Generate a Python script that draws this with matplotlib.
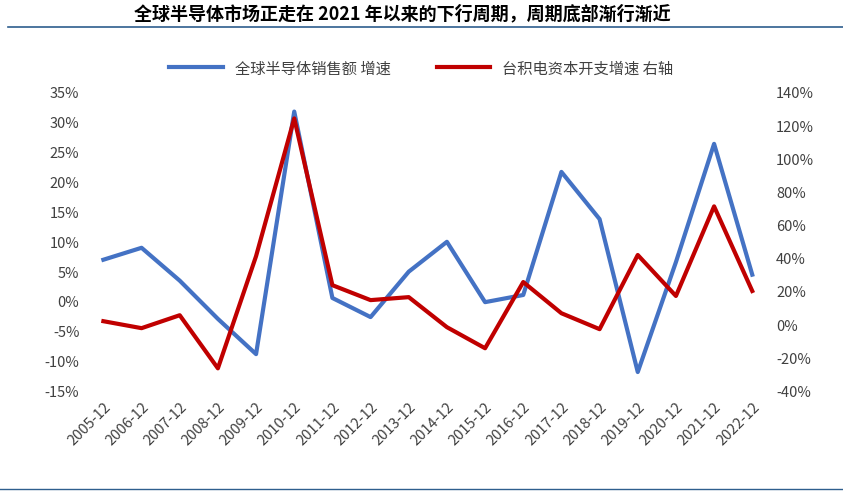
import matplotlib
matplotlib.use("Agg")
import matplotlib.pyplot as plt
from matplotlib.ticker import FuncFormatter
from matplotlib.lines import Line2D

plt.rcParams["font.family"] = ["Noto Sans CJK SC", "DejaVu Sans"]

categories = [f"{y}-12" for y in range(2005, 2023)]
sales_growth = [6.9, 8.9, 3.4, -3.0, -8.9, 31.7, 0.5, -2.7, 4.9, 9.9, -0.2, 1.0, 21.6, 13.7, -11.9, 6.5, 26.3, 4.4]
capex_growth = [1.8, -2.4, 5.4, -26.6, 41.0, 124.0, 23.5, 14.5, 16.3, -1.8, -14.5, 25.4, 6.6, -3.0, 41.7, 17.0, 71.0, 20.0]
title = "全球半导体市场正走在 2021 年以来的下行周期，周期底部渐行渐近"
legend_labels = ["全球半导体销售额 增速", "台积电资本开支增速 右轴"]

fig = plt.figure(figsize=(8.43, 5.02), dpi=100)
ax = fig.add_axes([0.1, 0.22, 0.815, 0.595])
ax2 = ax.twinx()
x = range(len(categories))
ax.plot(x, sales_growth, color="#4472C4", lw=3)
ax2.plot(x, capex_growth, color="#C00000", lw=3)
ax.set_ylim(-15, 35); ax.set_yticks(range(-15, 36, 5))
ax2.set_ylim(-40, 140); ax2.set_yticks(range(-40, 141, 20))
ax.yaxis.set_major_formatter(FuncFormatter(lambda v, p: f"{v:.0f}%"))
ax2.yaxis.set_major_formatter(FuncFormatter(lambda v, p: f"{v:.0f}%"))
ax.set_xlim(-0.5, len(categories) - 0.5)
ax.set_xticks(list(x)); ax.set_xticklabels(categories, rotation=45, ha="right", rotation_mode="anchor")
for a in (ax, ax2):
    for s in a.spines.values(): s.set_visible(False)
    a.tick_params(length=0, labelsize=10.5, colors="#404040")
ax.tick_params(axis="x", pad=6)
handles = [Line2D([], [], color="#4472C4", lw=3), Line2D([], [], color="#C00000", lw=3)]
fig.legend(handles, legend_labels, loc="center", bbox_to_anchor=(0.5, 0.862), ncol=2, frameon=False,
           fontsize=11, handlelength=3.5, columnspacing=3, labelcolor="#404040")
fig.text(0.477, 0.972, title, ha="center", va="center", fontsize=13, fontweight="bold", style="italic")
fig.add_artist(Line2D([0.01, 1.0], [0.944, 0.944], color="#2E5E8E", lw=1.2))
fig.add_artist(Line2D([0.0, 1.0], [0.024, 0.024], color="#2E5E8E", lw=1))
fig.savefig("out.png", dpi=100)
